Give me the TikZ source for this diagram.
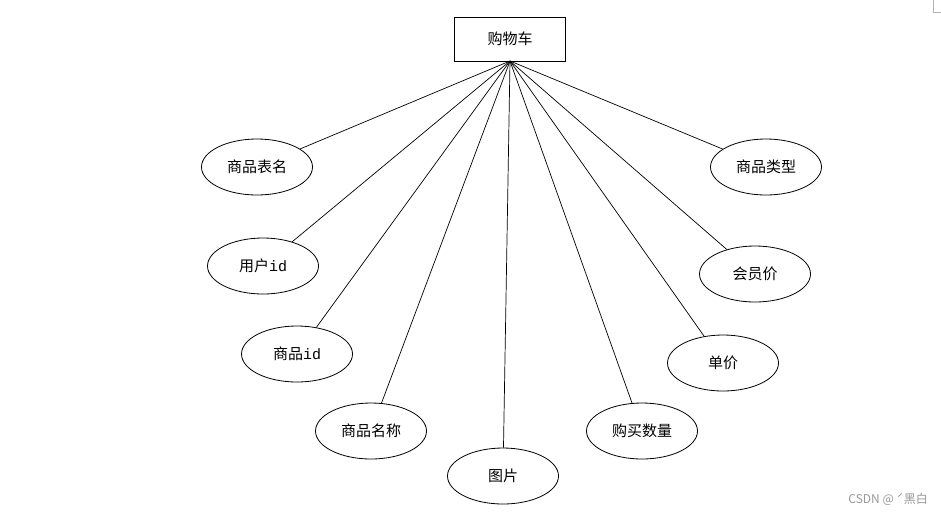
\documentclass[tikz,border=0pt]{standalone}
\usepackage{fontspec}
\newfontfamily\cjk{Noto Sans CJK SC}
\newfontfamily\idfont{Liberation Mono}
\usetikzlibrary{shapes.geometric}
\begin{document}
\begin{tikzpicture}[x=1pt,y=-1pt,
  attr/.style={draw,ellipse,line width=0.8pt,minimum width=111pt,minimum height=56pt,inner sep=0pt,font=\cjk\fontsize{15}{18}\selectfont},
  entity/.style={draw,rectangle,line width=0.8pt,minimum width=111pt,minimum height=44pt,inner sep=0pt,font=\cjk\fontsize{15}{18}\selectfont},
  link/.style={line width=0.7pt}]
\useasboundingbox (0,0) rectangle (941,515);
\fill[white] (0,0) rectangle (941,515);
\node[entity] (cart) at (510,39) {购物车};
\coordinate (apex) at (510,61);
\node[attr] (a1) at (257,167) {商品表名};
\node[attr] (a2) at (263,266) {用户{\idfont id}};
\node[attr] (a3) at (297,354) {商品{\idfont id}};
\node[attr] (a4) at (371,431) {商品名称};
\node[attr] (a5) at (503,476) {图片};
\node[attr] (a6) at (642,431) {购买数量};
\node[attr] (a7) at (723,363) {单价};
\node[attr] (a8) at (755,274) {会员价};
\node[attr] (a9) at (766,167) {商品类型};
\foreach \n in {a1,a2,a3,a4,a5,a6,a7,a8,a9}
  \draw[link] (apex) -- (\n);
\draw[gray!60,line width=0.6pt] (933,0) -- (933,12) -- (941,12);
\node[font=\cjk\fontsize{12}{14}\selectfont,text=gray!80,anchor=east,inner sep=0pt] (wm) at (928,499) {CSDN @\ ˊ黑白};
\end{tikzpicture}
\end{document}
